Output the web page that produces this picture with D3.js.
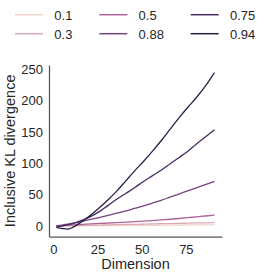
<!DOCTYPE html>
<html>
<head>
<meta charset="utf-8">
<script src="https://cdn.jsdelivr.net/npm/d3@7"></script>
<style>
html,body{margin:0;padding:0;background:#fff;}
svg{display:block;}
text{font-family:"Liberation Sans",Arial,sans-serif;fill:#262626;}
</style>
</head>
<body>
<script>
// ---- data ----
const dims = [2,5,8,11,14,17,21,26,31,36,41,46,51,56,61,66,71,76,81,86,91];
const seriesNames = ["0.1","0.3","0.5","0.88","0.75","0.94"];
const s_0_1  = [0,0.1,0.2,0.3,0.4,0.5,0.55,0.65,0.75,0.85,0.95,1.05,1.15,1.25,1.35,1.5,1.6,1.7,1.8,1.9,2.0];
const s_0_3  = [0.1,0.3,0.5,0.7,0.9,1.1,1.3,1.6,1.9,2.2,2.5,2.8,3.1,3.4,3.7,4.0,4.3,4.6,4.9,5.2,5.5];
const s_0_5  = [0.3,0.8,1.3,1.8,2.3,2.8,3.4,4.1,4.8,5.5,6.2,7.0,7.8,8.7,9.7,10.8,12.0,13.3,14.7,16.0,17.5];
const s_0_88 = [0.5,1.5,3,4.5,6,8,10.5,13.5,17,20.5,24,28,32,36.5,41,46,51,56,61,66,71];
const s_0_75 = [-1,0,2,4,7,10,15,23,33,43,52,61,71,80,89,99,109,119,131,142,153];
const s_0_94 = [-2.5,-4,-5,-2,3,9,17,29,42,56,72,88,103,119,136,154,172,189,205,223,244];
const seriesValues = [s_0_1, s_0_3, s_0_5, s_0_88, s_0_75, s_0_94];
const colors = ["#eed3cd","#dcaab4","#b0639a","#74447f","#45295c","#2d1e45"];
const yTicks = [0,50,100,150,200,250];
const xTicks = [0,25,50,75];

const W = 266, H = 276;
const svg = d3.select("body").append("svg").attr("width", W).attr("height", H);

const mLeft = 49, mRight = 222, mTop = 65, mBottom = 236.7;
const x = d3.scaleLinear().domain([-2.45, 95.45]).range([mLeft, mRight]);
const y = d3.scaleLinear().domain([-17, 256.8]).range([mBottom, mTop]);

// lines
const line = d3.line().x((d,i)=>x(dims[i])).y(d=>y(d)).curve(d3.curveMonotoneX);
const g = svg.append("g");
seriesValues.forEach((vals, k) => {
  g.append("path").datum(vals)
    .attr("d", line)
    .attr("fill","none")
    .attr("stroke", colors[k])
    .attr("stroke-width", 1.3)
    .attr("stroke-linejoin","round")
    .attr("stroke-linecap","round");
});

// axes
const xAxis = svg.append("g").attr("transform", `translate(0,${mBottom})`)
  .call(d3.axisBottom(x).tickValues(xTicks).tickSize(0).tickPadding(8.5).tickFormat(d3.format("d")));
const yAxis = svg.append("g").attr("transform", `translate(${mLeft},0)`)
  .call(d3.axisLeft(y).tickValues(yTicks).tickSize(0).tickPadding(6).tickFormat(d3.format("d")));
[xAxis, yAxis].forEach(a => {
  a.select(".domain").attr("stroke","#555").attr("stroke-width",1.25);
  a.selectAll("text").style("font-size","13px").style("font-family",'"Liberation Sans",Arial,sans-serif').attr("fill","#262626");
});

svg.append("text").attr("x", (mLeft+mRight)/2).attr("y", 269)
  .attr("text-anchor","middle").style("font-size","14.5px").text("Dimension");
svg.append("text").attr("transform", `translate(15,${(mTop+mBottom)/2}) rotate(-90)`)
  .attr("text-anchor","middle").style("font-size","14.5px").text("Inclusive KL divergence");

// legend: 3 columns, 2 rows, column-major
const colX = [15, 99.3, 190.7];
const rowY = [14.7, 33.7];
seriesNames.forEach((name, k) => {
  const c = Math.floor(k/2), r = k%2;
  const lg = svg.append("g");
  lg.append("line").attr("x1", colX[c]).attr("x2", colX[c]+28)
    .attr("y1", rowY[r]).attr("y2", rowY[r])
    .attr("stroke", colors[k]).attr("stroke-width", 1.5);
  lg.append("text").attr("x", colX[c]+39.3).attr("y", rowY[r]+5)
    .style("font-size","13px").text(name);
});
</script>
</body>
</html>
